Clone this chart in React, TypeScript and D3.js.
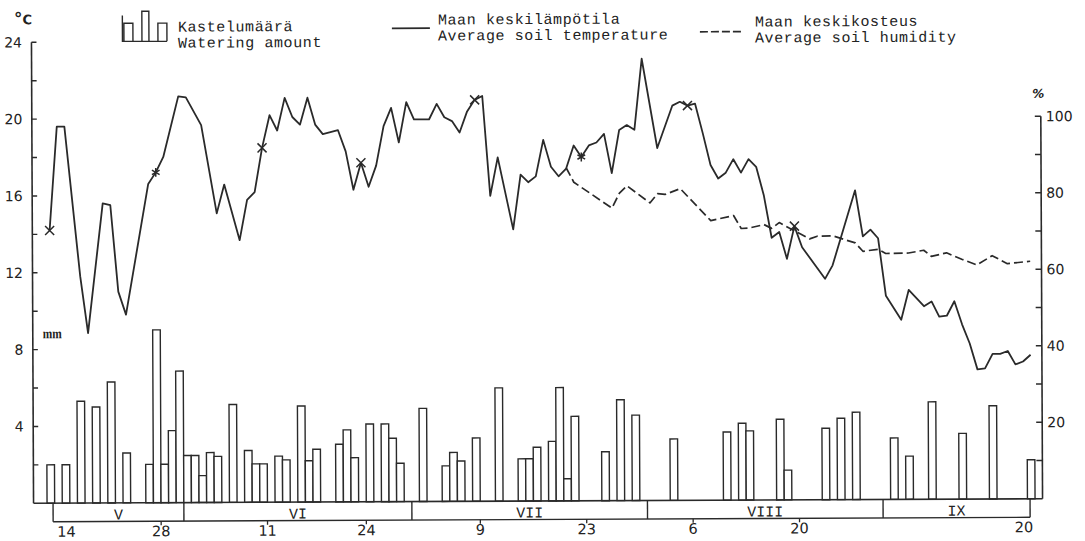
import React from 'react';
import * as d3 from 'd3';

const W = 1085;
const H = 541;

// Day index 0 = 14 May; the season runs to 20 September (day 129).
const wateringDays = [0, 2, 4, 6, 8, 10, 13, 14, 15, 16, 17, 18, 19, 20, 21, 22, 24, 26, 27, 28, 30, 31, 33, 34, 35, 38, 39, 40, 42, 44, 45, 46, 49, 52, 53, 54, 56, 59, 62, 63, 64, 66, 67, 68, 69, 73, 75, 77, 82, 89, 91, 92, 96, 97, 102, 104, 106, 111, 113, 116, 120, 124, 129];
const wateringMm = [2.0, 2.0, 5.3, 5.0, 6.3, 2.6, 2.0, 9.0, 2.0, 3.75, 6.85, 2.45, 2.45, 1.4, 2.6, 2.4, 5.1, 2.7, 2.0, 2.0, 2.4, 2.2, 5.0, 2.15, 2.75, 3.0, 3.75, 2.3, 4.05, 4.05, 3.3, 2.0, 4.85, 1.85, 2.55, 2.1, 3.3, 5.9, 2.2, 2.2, 2.8, 3.1, 5.9, 1.15, 4.4, 2.55, 5.25, 4.45, 3.2, 3.55, 4.0, 3.6, 4.2, 1.55, 3.72, 4.24, 4.55, 3.2, 2.25, 5.07, 3.42, 4.85, 2.03];

const tempDays = [0, 1, 2, 4, 5, 7, 8, 9, 10, 13, 14, 15, 17, 18, 20, 22, 23, 25, 26, 27, 28, 29, 30, 31, 32, 33, 34, 35, 36, 38, 39, 40, 41, 42, 43, 44, 45, 46, 47, 48, 50, 51, 52, 53, 54, 55, 56, 57, 58, 59, 61, 62, 63, 64, 65, 66, 67, 68, 69, 70, 71, 72, 73, 74, 75, 76, 77, 78, 80, 82, 83, 84, 85, 86, 87, 88, 89, 90, 91, 92, 93, 94, 95, 96, 97, 98, 99, 102, 103, 106, 107, 108, 109, 110, 112, 113, 115, 116, 117, 118, 119, 120, 121, 122, 123, 124, 125, 126, 127, 128, 129];
const tempC = [14.2, 19.6, 19.6, 11.8, 8.85, 15.6, 15.5, 11.0, 9.8, 16.6, 17.2, 18.0, 21.15, 21.1, 19.65, 15.05, 16.55, 13.65, 15.75, 16.15, 18.45, 20.15, 19.35, 21.05, 20.05, 19.65, 21.05, 19.65, 19.15, 19.35, 18.25, 16.25, 17.65, 16.4, 17.5, 19.55, 20.5, 18.7, 20.8, 19.9, 19.9, 20.7, 20.0, 19.8, 19.2, 20.3, 20.9, 21.1, 15.9, 17.9, 14.15, 17.0, 16.6, 16.9, 18.8, 17.4, 16.9, 17.3, 18.5, 17.9, 18.5, 18.65, 19.1, 17.05, 19.3, 19.55, 19.3, 23.0, 18.35, 20.55, 20.75, 20.55, 20.65, 19.1, 17.45, 16.75, 17.05, 17.75, 17.05, 17.75, 17.35, 15.85, 13.65, 13.95, 12.55, 14.25, 13.15, 11.5, 12.2, 16.1, 13.7, 14.05, 13.6, 10.6, 9.35, 10.9, 10.05, 10.3, 9.5, 9.55, 10.3, 9.1, 8.1, 6.75, 6.8, 7.55, 7.55, 7.7, 7.0, 7.15, 7.5];

const humDays = [68, 69, 74, 75, 76, 79, 80, 81, 83, 87, 90, 91, 92, 94, 95, 96, 100, 101, 103, 106, 107, 109, 110, 113, 115, 116, 118, 120, 122, 124, 126, 129];
const humPct = [87.1, 83.3, 76.5, 80.4, 82.3, 77.8, 80.2, 80.0, 81.5, 73.1, 74.4, 71.0, 71.1, 72.0, 71.0, 72.5, 68.2, 68.9, 69.0, 67.1, 64.9, 65.4, 64.3, 64.4, 65.1, 63.5, 64.4, 62.7, 61.2, 63.6, 61.5, 62.1];

// Measurement dates marked on the temperature curve
const markerDays = [0, 14, 28, 41, 56, 70, 84, 98];
const asteriskDays = [14, 70];

const tickDays = [0, 14, 28, 41, 56, 70, 84, 98, 129];
const tickLabels = ['14', '28', '11', '24', '9', '23', '6', '20', '20'];

const monthNames = ['V', 'VI', 'VII', 'VIII', 'IX'];
const monthStarts = [0, 18, 48, 79, 110];

const leftTicks = [2, 4, 6, 8, 10, 12, 14, 16, 18, 20, 22, 24];
const leftLabels = [4, 8, 12, 16, 20, 24];
const rightTicks = [10, 20, 30, 40, 50, 60, 70, 80, 90, 100];
const rightLabels = [20, 40, 60, 80, 100];

const INK = '#2a2a2a';
const MONO = '"Liberation Mono", "DejaVu Sans Mono", monospace';
const SANS = '"DejaVu Sans", "Liberation Sans", sans-serif';

export default function App() {
  const x = d3.scaleLinear().domain([0, 130]).range([46, 1034]);
  const yT = d3.scaleLinear().domain([0, 24]).range([501, 40]);
  const yH = d3.scaleLinear().domain([0, 100]).range([501, 118.5]);

  const leftX = 32.5;
  const rightX = 1041.5;
  const base = yT(0);
  const bandLeft = x(0) + 6;
  const bandRight = x(130) - 5;
  const bandBottom = 519.5;

  const tempPts: [number, number][] = tempDays.map((d, i) => [d, tempC[i]]);
  const humPts: [number, number][] = humDays.map((d, i) => [d, humPct[i]]);

  const tempLine = d3.line<[number, number]>()
    .x(d => x(d[0] + 0.5))
    .y(d => yT(d[1]))(tempPts) || '';
  const humLine = d3.line<[number, number]>()
    .x(d => x(d[0] + 0.5))
    .y(d => yH(d[1]))(humPts) || '';

  const timesPath = d3.symbol().type(d3.symbolTimes).size(55)() || '';
  const asteriskPath = d3.symbol().type(d3.symbolAsterisk).size(55)() || '';

  const monthEdges = monthStarts.map((d, i) => (i === 0 ? bandLeft : x(d)));
  monthEdges.push(bandRight);

  const legendFont = { fontFamily: MONO, fontSize: 15, letterSpacing: 0.6 };

  return (
    <svg width={W} height={H} style={{ position: 'absolute', left: 0, top: 0, display: 'block', background: '#fff' }}>
      <rect width={W} height={H} fill="#fff" />
      <g transform="rotate(-0.26 542 270)" stroke={INK} fill="none">
        {/* Watering bars, mm on the left scale */}
        {wateringDays.map((d, i) => (
          <rect key={'b' + d} x={x(d)} y={yT(wateringMm[i])} width={x(d + 1) - x(d)} height={base - yT(wateringMm[i])}
            fill="#fff" stroke={INK} strokeWidth={1.4} />
        ))}

        {/* Soil temperature */}
        <path d={tempLine} strokeWidth={1.8} strokeLinejoin="round" />
        {/* Soil humidity */}
        <path d={humLine} strokeWidth={1.7} strokeDasharray="9 4" strokeLinejoin="round" />

        {markerDays.map(d => {
          const i = tempDays.indexOf(d);
          return (
            <path key={'m' + d} d={asteriskDays.includes(d) ? asteriskPath : timesPath}
              transform={`translate(${x(d + 0.5)},${yT(tempC[i])})`} strokeWidth={1.5} />
          );
        })}

        {/* Left axis */}
        <line x1={leftX} x2={leftX} y1={yT(24)} y2={base} strokeWidth={1.6} />
        {leftTicks.map(t => (
          <line key={'lt' + t} x1={leftX} x2={leftX + 5} y1={yT(t)} y2={yT(t)} strokeWidth={1.4} />
        ))}
        {/* Right axis */}
        <line x1={rightX} x2={rightX} y1={yH(100)} y2={base} strokeWidth={1.6} />
        {rightTicks.map(t => (
          <line key={'rt' + t} x1={rightX - 6} x2={rightX} y1={yH(t)} y2={yH(t)} strokeWidth={1.4} />
        ))}
        {/* Baseline and month band */}
        <line x1={leftX} x2={rightX} y1={base} y2={base} strokeWidth={1.6} />
        <line x1={bandLeft} x2={bandRight} y1={bandBottom} y2={bandBottom} strokeWidth={1.4} />
        {monthEdges.map((e, i) => (
          <line key={'me' + i} x1={e} x2={e} y1={base} y2={bandBottom} strokeWidth={1.4} />
        ))}
        {tickDays.slice(1, -1).map(d => (
          <line key={'dt' + d} x1={x(d + 1)} x2={x(d + 1)} y1={bandBottom} y2={bandBottom + 4} strokeWidth={1.3} />
        ))}

        {/* Legend samples */}
        <path d={`M123.5,13.5V39.5H168M125,39.5V21.4H134V39.5M143,39.5V9.4H150V39.5M159,39.5V21.4H168V39.5`} strokeWidth={1.4} />
        <line x1={393} x2={431} y1={27.7} y2={27.7} strokeWidth={1.7} />
        <line x1={701} x2={742} y1={32.5} y2={32.5} strokeWidth={1.7} strokeDasharray="8 3" />

        <g stroke="none" fill="#222">
          {/* Legend texts */}
          <text x={179} y={30} {...legendFont}>Kastelumäärä</text>
          <text x={179} y={46} {...legendFont}>Watering amount</text>
          <text x={439} y={24} {...legendFont}>Maan keskilämpötila</text>
          <text x={439} y={40} {...legendFont}>Average soil temperature</text>
          <text x={756} y={27.5} {...legendFont}>Maan keskikosteus</text>
          <text x={756} y={43.5} {...legendFont}>Average soil humidity</text>

          {/* Axis titles */}
          <text x={15} y={22} fontFamily={SANS} fontSize={13} fontWeight="bold">
            <tspan fontSize={17}>°</tspan><tspan>C</tspan>
          </text>
          <text x={1033} y={100} fontFamily={SANS} fontSize={12} fontWeight="bold" fontStyle="italic">%</text>
          <text x={42.5} y={336} fontFamily='"Liberation Serif", serif' fontSize={14} fontWeight="bold" textLength={19} lengthAdjust="spacingAndGlyphs">mm</text>

          {leftLabels.map(t => (
            <text key={'ll' + t} x={23} y={yT(t)} dy="0.36em" textAnchor="end" fontFamily={SANS} fontSize={14}>{t}</text>
          ))}
          {rightLabels.map(t => (
            <text key={'rl' + t} x={rightX + 5} y={yH(t)} dy="0.36em" fontFamily={SANS} fontSize={14}>{t}</text>
          ))}

          {monthNames.map((m, i) => (
            <text key={'mn' + m} x={(monthEdges[i] + monthEdges[i + 1]) / 2} y={bandBottom - 2} textAnchor="middle"
              fontFamily={MONO} fontSize={15}>{m}</text>
          ))}

          {tickDays.map((d, i) => {
            const first = i === 0;
            const last = i === tickDays.length - 1;
            const tx = first ? bandLeft + 4 : last ? bandRight + 3 : x(d + 1);
            return (
              <text key={'tl' + i} x={tx} y={534.5} textAnchor={first ? 'start' : last ? 'end' : 'middle'}
                fontFamily={SANS} fontSize={14.5}>{tickLabels[i]}</text>
            );
          })}
        </g>
      </g>
    </svg>
  );
}
